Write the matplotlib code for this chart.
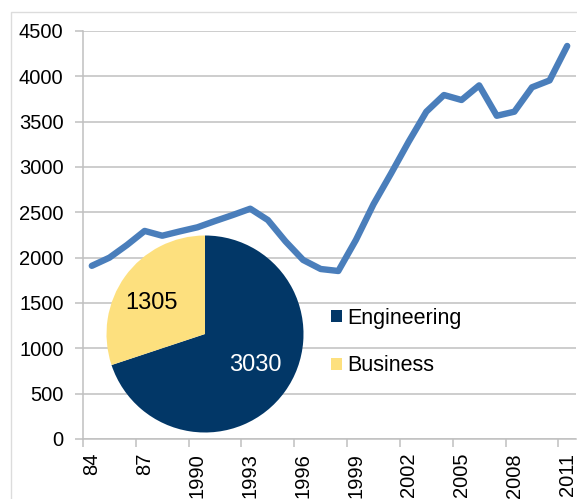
import matplotlib
matplotlib.use('Agg')
import matplotlib.pyplot as plt
from matplotlib.patches import Rectangle

# данные
years = list(range(1984, 2012))
values = [1910, 2000, 2140, 2295, 2242, 2290, 2335, 2404, 2470, 2540,
          2415, 2180, 1975, 1875, 1853, 2195, 2590, 2930, 3280, 3610,
          3794, 3739, 3900, 3565, 3610, 3879, 3955, 4335]
tick_years = ["84", "87", "1990", "1993", "1996", "1999", "2002", "2005", "2008", "2011"]

pie_labels = ["Engineering", "Business"]
pie_values = [3030, 1305]

line_color = "#4a7ebb"
pie_colors = ["#023767", "#fde07e"]
grid_color = "#c0c0c0"

plt.rcParams['font.family'] = ['Liberation Sans', 'DejaVu Sans']

W, H = 577, 499
fig = plt.figure(figsize=(W / 100, H / 100), dpi=100)

# рамка области диаграммы
fig.patches.append(Rectangle((11 / W, -0.1), 1.2, (499 - 12) / H + 0.1,
                             transform=fig.transFigure, fill=False,
                             edgecolor="#dcdcdc", lw=1))

left, right, top, bottom = 83, 576, 31, 439
ax = fig.add_axes([left / W, (H - bottom) / H, (right - left) / W, (bottom - top) / H])

x = list(range(len(years)))
ax.plot(x, values, color=line_color, lw=4.6, solid_capstyle='round',
        solid_joinstyle='round', zorder=3)

ax.set_ylim(0, 4500)
ax.set_xlim(-0.5, len(years) - 0.5)
ax.set_yticks(range(0, 4501, 500))
ax.yaxis.grid(True, color=grid_color, lw=1.1)
ax.set_axisbelow(True)

ax.set_xticks([i - 0.5 for i in range(0, len(years), 3)])
ax.set_xticklabels([])
ax.set_xticks(list(range(0, len(years), 3)), minor=True)
ax.set_xticklabels(tick_years, minor=True, rotation=90)
ax.tick_params(axis='x', which='major', length=6, color=grid_color, width=1.1)
ax.tick_params(axis='x', which='minor', length=0, pad=10, labelsize=14.5)
ax.tick_params(axis='y', length=6, color=grid_color, width=1.1, pad=8, labelsize=14.5)

for s in ['top', 'right']:
    ax.spines[s].set_visible(False)
for s in ['left', 'bottom']:
    ax.spines[s].set_color(grid_color)
    ax.spines[s].set_linewidth(1.1)

# круговая диаграмма
cx, cy, r = 205, 334, 98.5
pax = fig.add_axes([(cx - r) / W, (H - cy - r) / H, 2 * r / W, 2 * r / H])
wedges, _ = pax.pie(pie_values, colors=pie_colors, startangle=90,
                    counterclock=False, radius=1)
pax.set_xlim(-1, 1)
pax.set_ylim(-1, 1)
pax.set_aspect('equal')
pax.axis('off')
pax.text(0.51, -0.31, str(pie_values[0]), color="white", fontsize=17,
         ha='center', va='center')
pax.text(-0.54, 0.31, str(pie_values[1]), color="black", fontsize=17,
         ha='center', va='center')

fig.legend(wedges, pie_labels, loc='center left', bbox_to_anchor=(331 / W, (H - 342) / H),
           frameon=False, fontsize=15.5, handlelength=0.52, handleheight=0.52,
           handletextpad=0.25, borderpad=0, borderaxespad=0, labelspacing=1.25)

fig.savefig("out.png", dpi=100)
